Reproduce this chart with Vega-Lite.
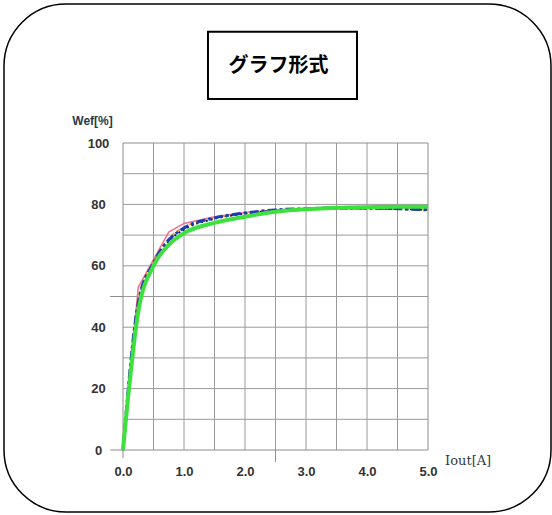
{
  "$schema": "https://vega.github.io/schema/vega-lite/v6.json",
  "width": 547,
  "height": 508,
  "autosize": "none",
  "padding": {"left": 4, "top": 4, "right": 1, "bottom": 3},
  "background": "white",
  "config": {"view": {"stroke": "#000000", "strokeWidth": 1.5, "cornerRadius": 62, "fill": "white"}},
  "datasets": {
    "curves": [
      {"series": "pink", "Iout": 0, "Wef": 0}, {"series": "pink", "Iout": 0.25, "Wef": 53}, {"series": "pink", "Iout": 0.5, "Wef": 62}, {"series": "pink", "Iout": 0.75, "Wef": 71}, {"series": "pink", "Iout": 1, "Wef": 73.8}, {"series": "pink", "Iout": 1.5, "Wef": 76}, {"series": "pink", "Iout": 2, "Wef": 77.4}, {"series": "pink", "Iout": 2.5, "Wef": 78.2}, {"series": "pink", "Iout": 3, "Wef": 78.7}, {"series": "pink", "Iout": 3.5, "Wef": 78.9}, {"series": "pink", "Iout": 4, "Wef": 79}, {"series": "pink", "Iout": 4.5, "Wef": 79}, {"series": "pink", "Iout": 5, "Wef": 79},
      {"series": "orange", "Iout": 0, "Wef": 0}, {"series": "orange", "Iout": 0.25, "Wef": 49}, {"series": "orange", "Iout": 0.5, "Wef": 61}, {"series": "orange", "Iout": 0.75, "Wef": 69}, {"series": "orange", "Iout": 1, "Wef": 72.5}, {"series": "orange", "Iout": 1.5, "Wef": 75.5}, {"series": "orange", "Iout": 2, "Wef": 77}, {"series": "orange", "Iout": 2.5, "Wef": 77.9}, {"series": "orange", "Iout": 3, "Wef": 78.4}, {"series": "orange", "Iout": 3.5, "Wef": 78.6}, {"series": "orange", "Iout": 4, "Wef": 78.6}, {"series": "orange", "Iout": 4.5, "Wef": 78.4}, {"series": "orange", "Iout": 5, "Wef": 78.2},
      {"series": "dark", "Iout": 0, "Wef": 0}, {"series": "dark", "Iout": 0.25, "Wef": 46.5}, {"series": "dark", "Iout": 0.5, "Wef": 60.5}, {"series": "dark", "Iout": 0.75, "Wef": 68}, {"series": "dark", "Iout": 1, "Wef": 71.8}, {"series": "dark", "Iout": 1.5, "Wef": 75.3}, {"series": "dark", "Iout": 2, "Wef": 77}, {"series": "dark", "Iout": 2.5, "Wef": 78}, {"series": "dark", "Iout": 3, "Wef": 78.5}, {"series": "dark", "Iout": 3.5, "Wef": 78.7}, {"series": "dark", "Iout": 4, "Wef": 78.7}, {"series": "dark", "Iout": 4.5, "Wef": 78.5}, {"series": "dark", "Iout": 5, "Wef": 78.3},
      {"series": "blue", "Iout": 0, "Wef": 0}, {"series": "blue", "Iout": 0.25, "Wef": 48}, {"series": "blue", "Iout": 0.5, "Wef": 61}, {"series": "blue", "Iout": 0.75, "Wef": 68.4}, {"series": "blue", "Iout": 1, "Wef": 72.3}, {"series": "blue", "Iout": 1.5, "Wef": 75.6}, {"series": "blue", "Iout": 2, "Wef": 77.2}, {"series": "blue", "Iout": 2.5, "Wef": 78.2}, {"series": "blue", "Iout": 3, "Wef": 78.6}, {"series": "blue", "Iout": 3.5, "Wef": 78.8}, {"series": "blue", "Iout": 4, "Wef": 78.8}, {"series": "blue", "Iout": 4.5, "Wef": 78.6}, {"series": "blue", "Iout": 5, "Wef": 78.2},
      {"series": "green", "Iout": 0, "Wef": 0}, {"series": "green", "Iout": 0.25, "Wef": 45}, {"series": "green", "Iout": 0.5, "Wef": 60}, {"series": "green", "Iout": 0.75, "Wef": 66.8}, {"series": "green", "Iout": 1, "Wef": 70.6}, {"series": "green", "Iout": 1.5, "Wef": 74}, {"series": "green", "Iout": 2, "Wef": 76}, {"series": "green", "Iout": 2.5, "Wef": 77.6}, {"series": "green", "Iout": 3, "Wef": 78.4}, {"series": "green", "Iout": 3.5, "Wef": 78.9}, {"series": "green", "Iout": 4, "Wef": 79.1}, {"series": "green", "Iout": 4.5, "Wef": 79.2}, {"series": "green", "Iout": 5, "Wef": 79.2}
    ],
    "vgrid": [{"Iout": 0.5}, {"Iout": 1}, {"Iout": 1.5}, {"Iout": 2}, {"Iout": 2.5}, {"Iout": 3}, {"Iout": 3.5}, {"Iout": 4}, {"Iout": 4.5}],
    "hgrid": [{"Wef": 10}, {"Wef": 20}, {"Wef": 30}, {"Wef": 40}, {"Wef": 50}, {"Wef": 60}, {"Wef": 70}, {"Wef": 80}, {"Wef": 90}]
  },
  "layer": [
    {
      "data": {"name": "vgrid"},
      "mark": {"type": "rule", "color": "#9a9a9a", "strokeWidth": 1},
      "encoding": {
        "x": {"field": "Iout", "type": "quantitative",
              "scale": {"domain": [-1.95082, 7.01639], "nice": false, "zero": false},
              "axis": {"values": [0, 1, 2, 3, 4, 5], "format": ".1f", "title": null, "domain": false, "ticks": false, "tickSize": 0, "grid": false, "offset": -62, "labelPadding": 15, "labelFont": "Liberation Sans", "labelFontWeight": "bold", "labelFontSize": 13, "labelColor": "#333333", "labelFlush": false, "labelOverlap": false}},
        "y": {"datum": 0, "type": "quantitative",
              "scale": {"domain": [-20.195, 145.277], "nice": false, "zero": false},
              "axis": {"values": [0, 20, 40, 60, 80, 100], "title": null, "domain": false, "ticks": false, "tickSize": 0, "grid": false, "offset": -119, "labelPadding": 25, "labelAlign": "center", "labelBaseline": "middle", "labelFont": "Liberation Sans", "labelFontWeight": "bold", "labelFontSize": 13, "labelColor": "#333333", "labelFlush": false, "labelOverlap": false}},
        "y2": {"datum": 100}
      }
    },
    {
      "data": {"name": "hgrid"},
      "mark": {"type": "rule", "color": "#9a9a9a", "strokeWidth": 1},
      "encoding": {
        "y": {"field": "Wef", "type": "quantitative", "scale": {"domain": [-20.195, 145.277], "nice": false, "zero": false}},
        "x": {"datum": 0, "type": "quantitative", "scale": {"domain": [-1.95082, 7.01639], "nice": false, "zero": false}},
        "x2": {"datum": 5}
      }
    },
    {
      "data": {"values": [{"Wef": 0}, {"Wef": 50}]},
      "mark": {"type": "rule", "color": "#8c8c8c", "strokeWidth": 1},
      "encoding": {
        "y": {"field": "Wef", "type": "quantitative", "scale": {"domain": [-20.195, 145.277], "nice": false, "zero": false}},
        "x": {"datum": -0.21, "type": "quantitative", "scale": {"domain": [-1.95082, 7.01639], "nice": false, "zero": false}},
        "x2": {"datum": 0}
      }
    },
    {
      "data": {"values": [{"Iout": 0, "low": -2.6}, {"Iout": 2.5, "low": -3.9}]},
      "mark": {"type": "rule", "color": "#8c8c8c", "strokeWidth": 1},
      "encoding": {
        "x": {"field": "Iout", "type": "quantitative", "scale": {"domain": [-1.95082, 7.01639], "nice": false, "zero": false}},
        "y": {"field": "low", "type": "quantitative", "scale": {"domain": [-20.195, 145.277], "nice": false, "zero": false}},
        "y2": {"datum": 0}
      }
    },
    {
      "data": {"values": [{}]},
      "mark": {"type": "rect", "fillOpacity": 0, "stroke": "#8c8c8c", "strokeWidth": 1},
      "encoding": {
        "x": {"datum": 0, "type": "quantitative", "scale": {"domain": [-1.95082, 7.01639], "nice": false, "zero": false}},
        "x2": {"datum": 5},
        "y": {"datum": 0, "type": "quantitative", "scale": {"domain": [-20.195, 145.277], "nice": false, "zero": false}},
        "y2": {"datum": 100}
      }
    },
    {
      "data": {"values": [{}]},
      "mark": {"type": "rect", "fill": "white", "stroke": "#000000", "strokeWidth": 2},
      "encoding": {
        "x": {"datum": 1.393, "type": "quantitative", "scale": {"domain": [-1.95082, 7.01639], "nice": false, "zero": false}},
        "x2": {"datum": 3.836},
        "y": {"datum": 114.33, "type": "quantitative", "scale": {"domain": [-20.195, 145.277], "nice": false, "zero": false}},
        "y2": {"datum": 136.25}
      }
    },
    {
      "data": {"values": [{"label": "グラフ形式"}]},
      "mark": {"type": "text", "font": "Noto Sans CJK JP", "fontWeight": "bold", "fontSize": 20, "color": "#000000", "align": "center", "baseline": "middle"},
      "encoding": {
        "text": {"field": "label"},
        "x": {"datum": 2.55, "type": "quantitative", "scale": {"domain": [-1.95082, 7.01639], "nice": false, "zero": false}},
        "y": {"datum": 125.1, "type": "quantitative", "scale": {"domain": [-20.195, 145.277], "nice": false, "zero": false}}
      }
    },
    {
      "data": {"values": [{"label": "Wef[%]"}]},
      "mark": {"type": "text", "font": "Liberation Sans", "fontWeight": "bold", "fontSize": 12, "color": "#2b3a4a", "align": "center", "baseline": "middle"},
      "encoding": {
        "text": {"field": "label"},
        "x": {"datum": -0.5, "type": "quantitative", "scale": {"domain": [-1.95082, 7.01639], "nice": false, "zero": false}},
        "y": {"datum": 107.2, "type": "quantitative", "scale": {"domain": [-20.195, 145.277], "nice": false, "zero": false}}
      }
    },
    {
      "data": {"values": [{"label": "Iout[A]"}]},
      "mark": {"type": "text", "font": "DejaVu Serif", "fontSize": 13, "color": "#2b3a4a", "align": "left", "baseline": "middle"},
      "encoding": {
        "text": {"field": "label"},
        "x": {"datum": 5.28, "type": "quantitative", "scale": {"domain": [-1.95082, 7.01639], "nice": false, "zero": false}},
        "y": {"datum": -3.6, "type": "quantitative", "scale": {"domain": [-20.195, 145.277], "nice": false, "zero": false}}
      }
    },
    {
      "data": {"name": "curves"},
      "transform": [{"filter": "datum.series === 'pink'"}],
      "mark": {"type": "line", "color": "#f07090", "strokeWidth": 1.5},
      "encoding": {
        "x": {"field": "Iout", "type": "quantitative", "scale": {"domain": [-1.95082, 7.01639], "nice": false, "zero": false}},
        "y": {"field": "Wef", "type": "quantitative", "scale": {"domain": [-20.195, 145.277], "nice": false, "zero": false}}
      }
    },
    {
      "data": {"name": "curves"},
      "transform": [{"filter": "datum.series === 'orange'"}],
      "mark": {"type": "line", "color": "#e0902a", "strokeWidth": 1.5, "strokeDash": [4, 3], "interpolate": "monotone"},
      "encoding": {
        "x": {"field": "Iout", "type": "quantitative", "scale": {"domain": [-1.95082, 7.01639], "nice": false, "zero": false}},
        "y": {"field": "Wef", "type": "quantitative", "scale": {"domain": [-20.195, 145.277], "nice": false, "zero": false}}
      }
    },
    {
      "data": {"name": "curves"},
      "transform": [{"filter": "datum.series === 'dark'"}],
      "mark": {"type": "line", "color": "#1a1a33", "strokeWidth": 2, "strokeDash": [2, 3], "interpolate": "monotone"},
      "encoding": {
        "x": {"field": "Iout", "type": "quantitative", "scale": {"domain": [-1.95082, 7.01639], "nice": false, "zero": false}},
        "y": {"field": "Wef", "type": "quantitative", "scale": {"domain": [-20.195, 145.277], "nice": false, "zero": false}}
      }
    },
    {
      "data": {"name": "curves"},
      "transform": [{"filter": "datum.series === 'blue'"}],
      "mark": {"type": "line", "color": "#1a3cb4", "strokeWidth": 3, "strokeDash": [9, 3, 3, 3], "interpolate": "monotone"},
      "encoding": {
        "x": {"field": "Iout", "type": "quantitative", "scale": {"domain": [-1.95082, 7.01639], "nice": false, "zero": false}},
        "y": {"field": "Wef", "type": "quantitative", "scale": {"domain": [-20.195, 145.277], "nice": false, "zero": false}}
      }
    },
    {
      "data": {"name": "curves"},
      "transform": [{"filter": "datum.series === 'green'"}],
      "mark": {"type": "line", "color": "#3ee03e", "strokeWidth": 4, "interpolate": "monotone"},
      "encoding": {
        "x": {"field": "Iout", "type": "quantitative", "scale": {"domain": [-1.95082, 7.01639], "nice": false, "zero": false}},
        "y": {"field": "Wef", "type": "quantitative", "scale": {"domain": [-20.195, 145.277], "nice": false, "zero": false}}
      }
    }
  ]
}
